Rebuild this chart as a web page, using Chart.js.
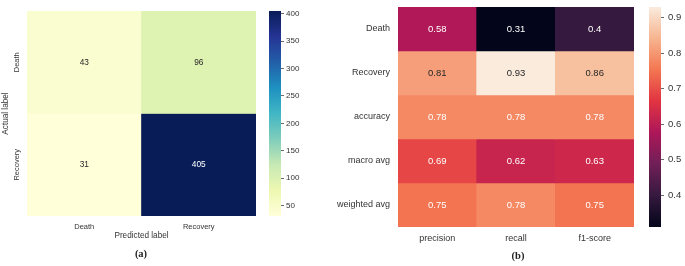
<!DOCTYPE html>
<html>
<head>
<meta charset="utf-8">
<script src="https://cdn.jsdelivr.net/npm/chart.js@4/dist/chart.umd.min.js"></script>
<style>
  body { margin: 0; background: #fff; width: 685px; height: 266px; position: relative; overflow: hidden; }
  canvas { position: absolute; top: 0; }
  .cap { position: absolute; font: bold 10.5px "Liberation Serif", serif; color: #222; transform: translateX(-50%); }
</style>
</head>
<body>
<canvas id="cmChart" width="262" height="250" style="left:0px"></canvas>
<canvas id="cmBar" width="50" height="250" style="left:262px"></canvas>
<canvas id="repChart" width="305" height="250" style="left:335px"></canvas>
<canvas id="repBar" width="45" height="250" style="left:640px"></canvas>
<div class="cap" style="left:141px; top:248px">(a)</div>
<div class="cap" style="left:518px; top:250px">(b)</div>
<script>
// (a) confusion matrix
const cmPredicted = ["Death", "Recovery"];
const cmActual = ["Death", "Recovery"];
const cmValues = [
    [43, 96],
    [31, 405],
];
const cmTicks = [50, 100, 150, 200, 250, 300, 350, 400];

// (b) classification report
const repColumns = ["precision", "recall", "f1-score"];
const repRows = ["Death", "Recovery", "accuracy", "macro avg", "weighted avg"];
const repValues = [
    [0.58, 0.31, 0.4],
    [0.81, 0.93, 0.86],
    [0.78, 0.78, 0.78],
    [0.69, 0.62, 0.63],
    [0.75, 0.78, 0.75],
];
const repTicks = [0.4, 0.5, 0.6, 0.7, 0.8, 0.9];

// colormaps
const ylGnBu = ["#ffffd9", "#edf8b1", "#c7e9b4", "#7fcdbb", "#41b6c4", "#1d91c0", "#225ea8", "#253494", "#081d58"];
const rocket = ["#03051a", "#35193e", "#701f57", "#ad1759", "#e13342", "#f37651", "#f6b48f", "#faebdd"];

Chart.defaults.font.family = "'Liberation Sans', Arial, sans-serif";
Chart.defaults.color = "#333";

function hexRgb(h) {
    return [1, 3, 5].map(i => parseInt(h.slice(i, i + 2), 16));
}

function colorAt(stops, t) {
    t = Math.max(0, Math.min(1, t));
    const p = t * (stops.length - 1);
    const i = Math.min(Math.floor(p), stops.length - 2);
    const f = p - i;
    const a = hexRgb(stops[i]), b = hexRgb(stops[i + 1]);
    return a.map((v, k) => Math.round(v + (b[k] - v) * f));
}

function luminance(rgb) {
    const c = rgb.map(v => {
        v /= 255;
        return v <= 0.03928 ? v / 12.92 : Math.pow((v + 0.055) / 1.055, 2.4);
    });
    return 0.2126 * c[0] + 0.7152 * c[1] + 0.0722 * c[2];
}

// no extra padding from the tick labels, the layout is fixed
function fixWidth(w) {
    return s => { s.width = w; s.paddingTop = 0; s.paddingBottom = 0; };
}
function fixHeight(h) {
    return s => { s.height = h; s.paddingLeft = 0; s.paddingRight = 0; };
}

const cellLabels = {
    id: "cellLabels",
    afterDatasetsDraw(chart, args, opts) {
        const { ctx } = chart;
        ctx.save();
        ctx.font = opts.size + "px 'Liberation Sans', Arial, sans-serif";
        ctx.textAlign = "center";
        ctx.textBaseline = "middle";
        chart.data.datasets.forEach((ds, i) => {
            chart.getDatasetMeta(i).data.forEach((bar, j) => {
                const { x, y, base } = bar.getProps(["x", "y", "base"], true);
                ctx.fillStyle = luminance(ds.rgb[j]) > 0.408 ? "#262626" : "#ffffff";
                ctx.fillText(String(ds.values[j]), x, (y + base) / 2);
            });
        });
        ctx.restore();
    },
};

function drawHeatmap(id, cols, rows, values, stops, o) {
    const flat = values.flat();
    const vmin = Math.min(...flat), vmax = Math.max(...flat);
    const datasets = rows.map((row, r) => {
        const rgb = values[r].map(v => colorAt(stops, (v - vmin) / (vmax - vmin)));
        return {
            label: row,
            data: cols.map(() => [r, r + 1]),
            values: values[r],
            rgb: rgb,
            backgroundColor: rgb.map(c => `rgb(${c.join(",")})`),
            borderWidth: 0,
            barPercentage: 1,
            categoryPercentage: 1,
            grouped: false,
        };
    });
    new Chart(document.getElementById(id), {
        type: "bar",
        data: { labels: cols, datasets: datasets },
        options: {
            responsive: false,
            animation: false,
            devicePixelRatio: 1,
            layout: { padding: o.padding },
            plugins: {
                legend: { display: false },
                tooltip: { enabled: false },
                cellLabels: { size: o.cellSize },
            },
            scales: {
                x: {
                    grid: { display: false, drawTicks: false },
                    border: { display: false },
                    ticks: { font: { size: o.tickSize }, padding: 6, color: "#333" },
                    title: o.xTitle
                        ? { display: true, text: o.xTitle, font: { size: o.titleSize }, color: "#333", padding: { top: 0, bottom: 9 } }
                        : { display: false },
                    afterFit: fixHeight(o.xHeight),
                },
                y: {
                    min: 0,
                    max: rows.length,
                    reverse: true,
                    grid: { display: false, drawTicks: false },
                    border: { display: false },
                    afterBuildTicks: s => { s.ticks = rows.map((_, i) => ({ value: i + 0.5 })); },
                    ticks: Object.assign({
                        font: { size: o.tickSize },
                        color: "#333",
                        callback: v => rows[Math.floor(v)],
                    }, o.yTicks),
                    title: o.yTitle
                        ? { display: true, text: o.yTitle, font: { size: o.titleSize }, color: "#333", padding: { top: 1, bottom: 0 } }
                        : { display: false },
                    afterFit: fixWidth(o.yWidth),
                },
            },
        },
        plugins: [cellLabels],
    });
    return [vmin, vmax];
}

function drawColorbar(id, range, stops, ticks, o) {
    new Chart(document.getElementById(id), {
        type: "bar",
        data: {
            labels: [""],
            datasets: [{
                data: [range],
                borderWidth: 0,
                barPercentage: 1,
                categoryPercentage: 1,
                backgroundColor: ctx => {
                    const area = ctx.chart.chartArea;
                    if (!area) return "#ccc";
                    const g = ctx.chart.ctx.createLinearGradient(0, area.bottom, 0, area.top);
                    stops.forEach((c, i) => g.addColorStop(i / (stops.length - 1), c));
                    return g;
                },
            }],
        },
        options: {
            responsive: false,
            animation: false,
            devicePixelRatio: 1,
            layout: { padding: o.padding },
            plugins: { legend: { display: false }, tooltip: { enabled: false } },
            scales: {
                x: { display: false },
                y: {
                    position: "right",
                    min: range[0],
                    max: range[1],
                    afterBuildTicks: s => { s.ticks = ticks.map(v => ({ value: v })); },
                    grid: { display: true, drawOnChartArea: false, drawTicks: true, tickLength: 3, color: "#444", lineWidth: 0.8 },
                    border: { display: false },
                    ticks: { font: { size: o.tickSize }, padding: o.tickPad, color: "#333" },
                    afterFit: fixWidth(o.axisWidth),
                },
            },
        },
    });
}

const cmRange = drawHeatmap("cmChart", cmPredicted, cmActual, cmValues, ylGnBu, {
    padding: { top: 11, right: 6, left: 0, bottom: 0 },
    xHeight: 34, yWidth: 27,
    tickSize: 7.5, cellSize: 8.3, titleSize: 8.2,
    xTitle: "Predicted label", yTitle: "Actual label",
    yTicks: { minRotation: 90, maxRotation: 90, crossAlign: "center", padding: -6 },
});
drawColorbar("cmBar", cmRange, ylGnBu, cmTicks, {
    padding: { top: 11, left: 7, right: 0, bottom: 34 },
    axisWidth: 31, tickSize: 8, tickPad: 2,
});

const repRange = drawHeatmap("repChart", repColumns, repRows, repValues, rocket, {
    padding: { top: 7, right: 6, left: 0, bottom: 0 },
    xHeight: 23, yWidth: 63,
    tickSize: 9, cellSize: 9.5, titleSize: 9,
    yTicks: { padding: 8 },
});
drawColorbar("repBar", repRange, rocket, repTicks, {
    padding: { top: 7, left: 9, right: 0, bottom: 23 },
    axisWidth: 24, tickSize: 9.5, tickPad: 4,
});
</script>
</body>
</html>
